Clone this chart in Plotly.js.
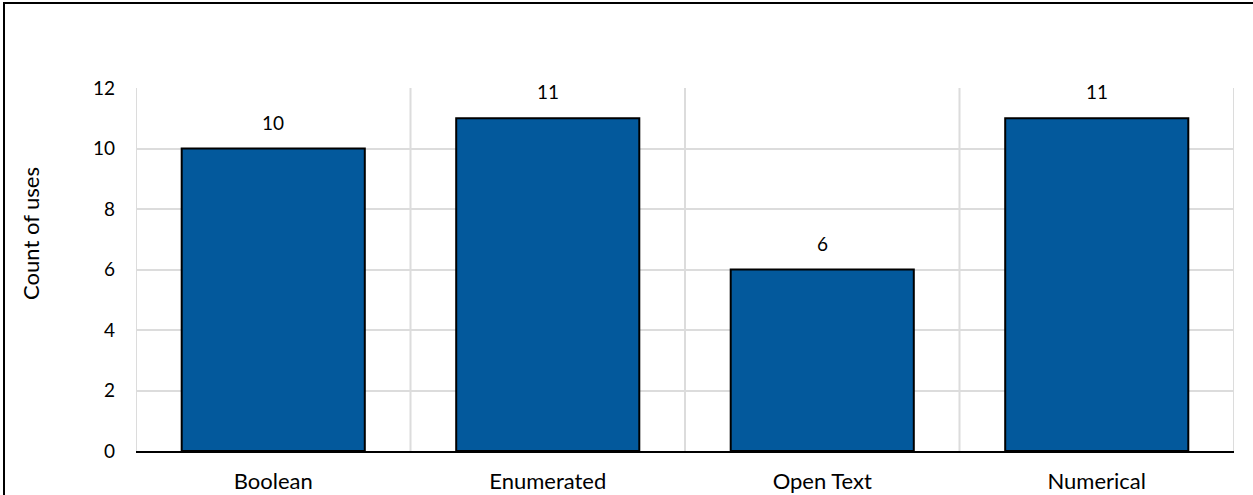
<!DOCTYPE html>
<html>
<head>
<meta charset="utf-8">
<script src="https://cdn.plot.ly/plotly-3.0.1.min.js"></script>
<style>
  html, body { margin: 0; padding: 0; background: #fff; overflow: hidden; }
  #wrap { position: relative; width: 1253px; height: 495px; }
  #chart { position: absolute; left: 0; top: 0; width: 1253px; height: 495px; }
  #frame { position: absolute; left: 3px; top: 2px; width: 1400px; height: 600px;
           border-left: 2px solid #000; border-top: 2px solid #000; pointer-events: none; }
</style>
</head>
<body>
<div id="wrap">
  <div id="chart"></div>
  <div id="frame"></div>
</div>
<script>
const categories = ["Boolean", "Enumerated", "Open Text", "Numerical"];
const counts = [10, 11, 6, 11];
const yTickVals = [0, 2, 4, 6, 8, 10, 12];
const yTitle = "Count of uses";

const FONT = "Lato, 'Open Sans', sans-serif";

const trace = {
  type: "bar",
  x: categories,
  y: counts,
  marker: { color: "#03599C", line: { color: "#000000", width: 2 } },
  hoverinfo: "skip",
  cliponaxis: false
};

const annotations = categories.map((c, i) => ({
  x: c, y: counts[i], xref: "x", yref: "y",
  text: String(counts[i]), showarrow: false,
  yanchor: "bottom", yshift: 13,
  font: { family: FONT, size: 19, color: "#000" }
}));
annotations.push({
  xref: "paper", yref: "paper", x: -0.0956, y: 0.598,
  xanchor: "center", yanchor: "middle", textangle: -90,
  text: yTitle, showarrow: false,
  font: { family: FONT, size: 22, color: "#000" }
});

const shapes = categories.concat([null]).map((c, i) => ({
  type: "line", xref: "x", yref: "paper",
  x0: i - 0.5, x1: i - 0.5, y0: 0, y1: 1,
  line: { color: "#dcdcdc", width: 2 }, layer: "below"
}));

const layout = {
  width: 1253, height: 495,
  margin: { l: 136, r: 19, t: 88, b: 44 },
  paper_bgcolor: "rgba(0,0,0,0)",
  plot_bgcolor: "#ffffff",
  showlegend: false,
  bargap: 0.333,
  font: { family: FONT, size: 19, color: "#000" },
  xaxis: {
    type: "category",
    range: [-0.5, categories.length - 0.5],
    showgrid: false,
    showline: true, linecolor: "#000", linewidth: 2,
    ticks: "", ticklabelstandoff: 10,
    tickfont: { family: FONT, size: 22, color: "#000" },
    fixedrange: true
  },
  yaxis: {
    range: [0, 12],
    tickvals: yTickVals,
    showgrid: true, gridcolor: "#dcdcdc", gridwidth: 2,
    zeroline: false, showline: false,
    ticks: "", ticklabelstandoff: 20,
    tickfont: { family: FONT, size: 19, color: "#000" },
    fixedrange: true
  },
  shapes: shapes,
  annotations: annotations
};

Plotly.newPlot("chart", [trace], layout, { displayModeBar: false, staticPlot: true });
</script>
</body>
</html>
